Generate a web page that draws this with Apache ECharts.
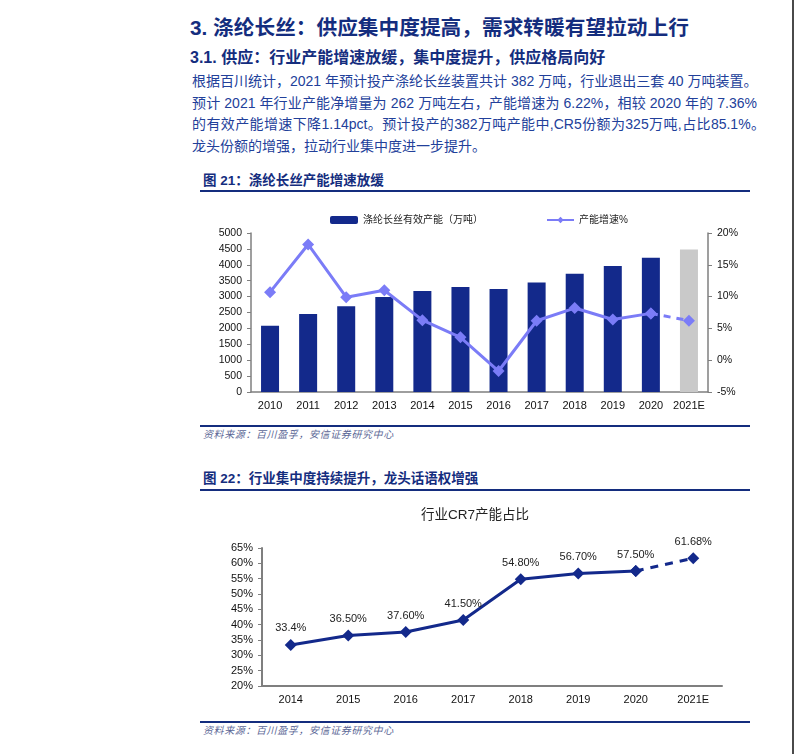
<!DOCTYPE html>
<html>
<head>
<meta charset="utf-8">
<script src="https://cdn.jsdelivr.net/npm/echarts@6/dist/echarts.min.js"></script>
<style>
  html, body { margin: 0; padding: 0; background: #fff; }
  body { width: 795px; height: 754px; position: relative; overflow: hidden;
         font-family: 'Liberation Sans', Arial, 'Noto Sans CJK SC', sans-serif; }
  .abs { position: absolute; white-space: nowrap; }
  .h1 { left: 190px; top: 14px; font-size: 20.7px; font-weight: bold; color: #142d7e; line-height: 28px; }
  .h2 { left: 190px; top: 47px; font-size: 16px; font-weight: bold; color: #142d7e; line-height: 22px; }
  .p { left: 192px; font-size: 14px; color: #22409a; line-height: 20px; }
  .pj { width: 565px; text-align: justify; text-align-last: justify; }
  .fig { left: 203px; font-size: 13.5px; font-weight: bold; color: #142d7e; line-height: 18px; }
  .rule { position: absolute; left: 200px; width: 550px; height: 2px; background: #142d7e; }
  .src { left: 203px; font-size: 10px; font-style: italic; color: #5b6796; letter-spacing: 0.6px; line-height: 14px; }
  .chart { position: absolute; }
</style>
</head>
<body>
<div class="abs h1">3. 涤纶长丝：供应集中度提高，需求转暖有望拉动上行</div>
<div class="abs h2">3.1. 供应：行业产能增速放缓，集中度提升，供应格局向好</div>
<div class="abs p pj" style="top:71px">根据百川统计，2021 年预计投产涤纶长丝装置共计 382 万吨，行业退出三套 40 万吨装置。</div>
<div class="abs p pj" style="top:92.5px">预计 2021 年行业产能净增量为 262 万吨左右，产能增速为 6.22%，相较 2020 年的 7.36%</div>
<div class="abs p pj" style="top:114px; width:573px">的有效产能增速下降1.14pct。预计投产的382万吨产能中,CR5份额为325万吨,占比85.1%。</div>
<div class="abs p" style="top:135.5px">龙头份额的增强，拉动行业集中度进一步提升。</div>

<div class="abs fig" style="top:172px">图 21：涤纶长丝产能增速放缓</div>
<div class="rule" style="top:190px"></div>
<div id="c1" class="chart" style="left:180px; top:200px; width:580px; height:220px;"></div>
<div class="rule" style="top:425px"></div>
<div class="abs src" style="top:428px">资料来源：百川盈孚，安信证券研究中心</div>

<div class="abs fig" style="top:470px">图 22：行业集中度持续提升，龙头话语权增强</div>
<div class="rule" style="top:489px"></div>
<div id="c2" class="chart" style="left:180px; top:495px; width:580px; height:225px;"></div>
<div class="rule" style="top:721px"></div>
<div class="src abs" style="top:724px">资料来源：百川盈孚，安信证券研究中心</div>

<div style="position:absolute; left:792px; top:0; width:2px; height:754px; background:#4a4a4a;"></div>

<script>
// ---------- Data: chart 1 ----------
const years1 = ['2010', '2011', '2012', '2013', '2014', '2015', '2016', '2017', '2018', '2019', '2020', '2021E'];
const capacity = [2080, 2450, 2700, 2990, 3180, 3300, 3240, 3440, 3720, 3960, 4220, 4480];
const growth = [10.7, 18.2, 9.9, 11.0, 6.3, 3.6, -1.7, 6.2, 8.2, 6.4, 7.36, 6.22];
const barName = '涤纶长丝有效产能（万吨）';
const lineName = '产能增速%';

// ---------- Data: chart 2 ----------
const years2 = ['2014', '2015', '2016', '2017', '2018', '2019', '2020', '2021E'];
const cr7 = [33.4, 36.5, 37.6, 41.5, 54.8, 56.7, 57.5, 61.68];
const cr7Labels = ['33.4%', '36.50%', '37.60%', '41.50%', '54.80%', '56.70%', '57.50%', '61.68%'];
const title2 = '行业CR7产能占比';

const FONT = "'Liberation Sans', Arial, 'Noto Sans CJK SC', sans-serif";
const NAVY = '#13298b';
const LILAC = '#7b7cf7';
const AXIS = '#7f7f7f';

// ---------- Chart 1 ----------
const estIndex1 = years1.length - 1;
const c1 = echarts.init(document.getElementById('c1'));
c1.setOption({
  animation: false,
  textStyle: { fontFamily: FONT },
  legend: [
    { data: [{ name: barName, icon: 'roundRect' }], left: 145, top: 10, itemWidth: 28, itemHeight: 8,
      textStyle: { fontSize: 10, color: '#222', fontFamily: FONT } },
    { data: [lineName], left: 361, top: 10, itemWidth: 27, itemHeight: 8,
      textStyle: { fontSize: 10, color: '#222', fontFamily: FONT } }
  ],
  grid: { left: 71, right: 52, top: 33, bottom: 28 },
  xAxis: {
    type: 'category', data: years1,
    axisLine: { lineStyle: { color: AXIS, width: 1.5 } },
    axisTick: { inside: true, length: 4, lineStyle: { color: AXIS } },
    axisLabel: { color: '#111', fontSize: 11, margin: 8, interval: 0, fontFamily: FONT }
  },
  yAxis: [
    { type: 'value', min: 0, max: 5000, interval: 500,
      splitLine: { show: false },
      axisLine: { show: true, lineStyle: { color: AXIS, width: 1.5 } },
      axisTick: { show: true, length: 4, lineStyle: { color: AXIS } },
      axisLabel: { color: '#111', fontSize: 10.5, margin: 9, formatter: v => String(v), fontFamily: FONT } },
    { type: 'value', min: -5, max: 20, interval: 5, position: 'right',
      splitLine: { show: false },
      axisLine: { show: true, lineStyle: { color: AXIS, width: 1.5 } },
      axisTick: { show: true, length: 4, lineStyle: { color: AXIS } },
      axisLabel: { color: '#111', fontSize: 10.5, margin: 9, formatter: '{value}%', fontFamily: FONT } }
  ],
  series: [
    { name: barName, type: 'bar', barWidth: 18, yAxisIndex: 0,
      itemStyle: { color: NAVY },
      data: capacity.map((v, i) => i === estIndex1 ? { value: v, itemStyle: { color: '#c9c9c9' } } : v) },
    { name: lineName, type: 'line', yAxisIndex: 1, symbol: 'diamond', symbolSize: 12,
      lineStyle: { color: LILAC, width: 3 }, itemStyle: { color: LILAC, borderWidth: 0 },
      data: growth.map((v, i) => i < estIndex1 ? v : '-') },
    { name: lineName, type: 'line', yAxisIndex: 1, symbol: 'diamond', symbolSize: 12,
      lineStyle: { color: LILAC, width: 3, type: [7, 6] }, itemStyle: { color: LILAC, borderWidth: 0 },
      data: growth.map((v, i) => i >= estIndex1 - 1 ? v : '-') }
  ]
});

// ---------- Chart 2 ----------
const estIndex2 = years2.length - 1;
const c2 = echarts.init(document.getElementById('c2'));
const labelCfg = { show: true, position: 'top', distance: 5, color: '#222', fontSize: 11, fontFamily: FONT,
  formatter: p => cr7Labels[p.dataIndex] };
c2.setOption({
  animation: false,
  textStyle: { fontFamily: FONT },
  graphic: [{ type: 'text', x: 295, y: 20,
    style: { text: title2, align: 'center', verticalAlign: 'middle', fontSize: 13.5, fill: '#222', fontFamily: FONT } }],
  grid: { left: 82, right: 38, top: 53, bottom: 34 },
  xAxis: {
    type: 'category', data: years2,
    axisLine: { lineStyle: { color: AXIS, width: 2 } },
    axisTick: { inside: true, length: 4, lineStyle: { color: AXIS } },
    axisLabel: { color: '#111', fontSize: 11, margin: 8, interval: 0, fontFamily: FONT }
  },
  yAxis: {
    type: 'value', min: 20, max: 65, interval: 5,
    splitLine: { show: false },
    axisLine: { show: true, lineStyle: { color: AXIS, width: 2 } },
    axisTick: { show: true, length: 4, lineStyle: { color: AXIS } },
    axisLabel: { color: '#111', fontSize: 11, margin: 9, formatter: '{value}%', fontFamily: FONT }
  },
  series: [
    { type: 'line', symbol: 'diamond', symbolSize: 12,
      lineStyle: { color: NAVY, width: 3 }, itemStyle: { color: NAVY, borderWidth: 0 },
      label: labelCfg,
      data: cr7.map((v, i) => i < estIndex2 ? v : '-') },
    { type: 'line', symbol: 'diamond', symbolSize: 12,
      lineStyle: { color: NAVY, width: 3, type: [8, 7] }, itemStyle: { color: NAVY, borderWidth: 0 },
      label: Object.assign({}, labelCfg, { formatter: p => p.dataIndex === estIndex2 ? cr7Labels[p.dataIndex] : '' }),
      data: cr7.map((v, i) => i >= estIndex2 - 1 ? v : '-') }
  ]
});
</script>
</body>
</html>
